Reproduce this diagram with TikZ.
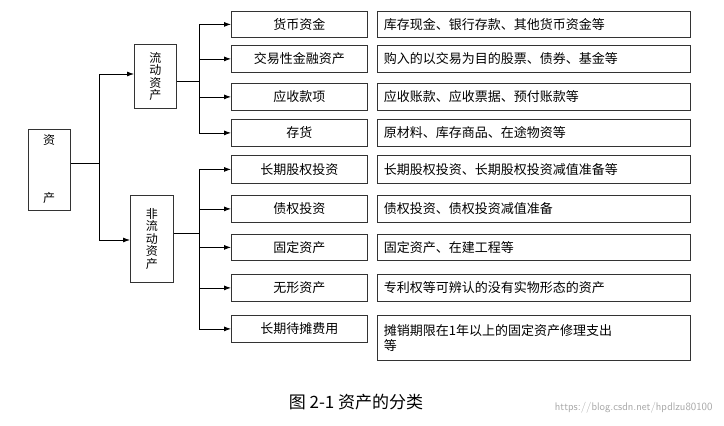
\documentclass[tikz,border=0pt]{standalone}
\usepackage{fontspec}
\setmainfont{Liberation Serif}
\newfontfamily\cjk{Noto Sans CJK SC}
\usetikzlibrary{arrows.meta}
\begin{document}
\begin{tikzpicture}[x=1pt,y=-1pt,
  bx/.style={draw=black!80,line width=0.8pt,inner sep=0pt,font=\cjk\fontsize{13}{15}\selectfont},
  ar/.style={-{Latex[length=7pt,width=5pt]},line width=0.8pt},
  ln/.style={line width=0.8pt}]
\useasboundingbox (0,0) rectangle (724,426);
\node[bx,minimum width=42pt,minimum height=81pt,anchor=north west] (root) at (28,129) {};
\node[font=\cjk\fontsize{12}{14}\selectfont] at (49,140) {资};
\node[font=\cjk\fontsize{12}{14}\selectfont] at (49,198) {产};
\node[bx,minimum width=42pt,minimum height=64pt,anchor=north west,align=center,font=\cjk\fontsize{12}{12.5}\selectfont] (cur) at (134,44) {流\\动\\资\\产};
\node[bx,minimum width=43pt,minimum height=87pt,anchor=north west,align=center,font=\cjk\fontsize{12}{12.5}\selectfont] (non) at (130,195) {非\\流\\动\\资\\产};
\coordinate (t0) at (99,163);
\draw[ln] (root.east|-t0) -- (t0);
\draw[ln] (99,74) -- (99,240);
\draw[ar] (99,74) -- (cur.west|-99,74);
\draw[ar] (99,240) -- (non.west|-99,240);
\foreach \n/\ya/\yb/\a/\b in {
 1/11/37/货币资金/库存现金、银行存款、其他货币资金等,
 2/45/72/交易性金融资产/购入的以交易为目的股票、债券、基金等,
 3/83/110/应收款项/应收账款、应收票据、预付账款等,
 4/119/146/存货/原材料、库存商品、在途物资等,
 5/155/183/长期股权投资/长期股权投资、长期股权投资减值准备等,
 6/195/222/债权投资/债权投资、债权投资减值准备,
 7/234/260/固定资产/固定资产、在建工程等,
 8/274/301/无形资产/专利权等可辨认的没有实物形态的资产}{
 \node[bx,minimum width=136pt,minimum height=\yb pt-\ya pt,anchor=north west] (m\n) at (231,\ya) {\a};
 \node[bx,minimum width=313pt,minimum height=\yb pt-\ya pt,anchor=north west,text width=300pt,align=left] (r\n) at (377,\ya) {\b};
}
\node[bx,minimum width=136pt,minimum height=27pt,anchor=north west] (m9) at (231,315) {长期待摊费用};
\node[bx,minimum width=313pt,minimum height=45pt,anchor=north west,text width=300pt,align=left] (r9) at (377,315) {摊销期限在1年以上的固定资产修理支出\\等};
\coordinate (b1) at (199,81);
\draw[ln] (cur.east|-b1) -- (b1);
\draw[ln] (199,24) -- (199,133);
\foreach \i in {1,...,4}{\draw[ar] (199,0|-m\i.west) -- (m\i.west);}
\coordinate (b2) at (199,233);
\draw[ln] (non.east|-b2) -- (b2);
\draw[ln] (199,169) -- (199,329);
\foreach \i in {5,...,9}{\draw[ar] (199,0|-m\i.west) -- (m\i.west);}
\node[font=\cjk\fontsize{17}{19}\selectfont] (cap) at (356,402) {图 2-1 资产的分类};
\node[font=\fontsize{11}{13}\selectfont\sffamily,text=black!35,anchor=east] (wm) at (716,408) {https://blog.csdn.net/hpdlzu80100};
\end{tikzpicture}
\end{document}
